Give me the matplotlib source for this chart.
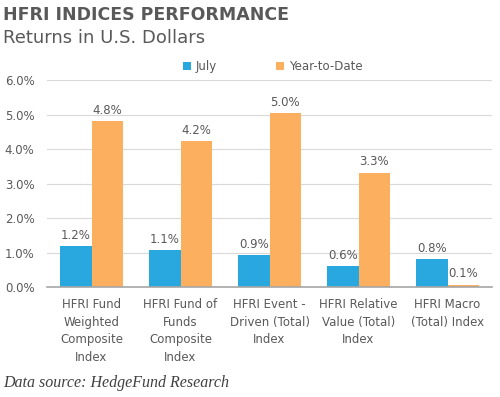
import matplotlib
matplotlib.use("Agg")
import matplotlib.pyplot as plt
import numpy as np
from matplotlib.ticker import FuncFormatter

categories = ["HFRI Fund\nWeighted\nComposite\nIndex", "HFRI Fund of\nFunds\nComposite\nIndex",
              "HFRI Event -\nDriven (Total)\nIndex", "HFRI Relative\nValue (Total)\nIndex",
              "HFRI Macro\n(Total) Index"]
july = [1.2, 1.1, 0.9, 0.6, 0.8]
ytd = [4.8, 4.2, 5.0, 3.3, 0.1]
july_heights = [1.18, 1.06, 0.92, 0.60, 0.80]
ytd_heights = [4.82, 4.24, 5.05, 3.32, 0.07]
yticks = [0, 1, 2, 3, 4, 5, 6]

BLUE = "#29A8E0"
ORANGE = "#FBAF5F"
GRAY = "#595959"

fig = plt.figure(figsize=(5, 3.97), dpi=100)
ax = fig.add_axes([0.094, 0.277, 0.89, 0.521])

x = np.arange(len(categories))
w = 0.35
b1 = ax.bar(x - w/2, july_heights, w, color=BLUE, label="July", zorder=3)
b2 = ax.bar(x + w/2, ytd_heights, w, color=ORANGE, label="Year-to-Date", zorder=3)

for rect, v in zip(b1, july):
    ax.text(rect.get_x() + rect.get_width()/2, rect.get_height() + 0.12, f"{v:.1f}%",
            ha="center", va="bottom", fontsize=8.5, color=GRAY)
for rect, v in zip(b2, ytd):
    ax.text(rect.get_x() + rect.get_width()/2, rect.get_height() + 0.12, f"{v:.1f}%",
            ha="center", va="bottom", fontsize=8.5, color=GRAY)

ax.set_ylim(0, 6)
ax.set_xlim(-0.5, len(categories) - 0.5)
ax.set_yticks(yticks)
ax.yaxis.set_major_formatter(FuncFormatter(lambda v, p: f"{v:.1f}%"))
ax.grid(axis="y", color="#D9D9D9", linewidth=0.8, zorder=0)
ax.set_xticks(x)
ax.set_xticklabels(categories, fontsize=8.5, color=GRAY, linespacing=1.45)
ax.tick_params(axis="y", length=0, labelsize=8.5, labelcolor=GRAY, pad=9)
ax.tick_params(axis="x", length=0, pad=8)
for s in ["top", "right", "left"]:
    ax.spines[s].set_visible(False)
ax.spines["bottom"].set_color("#A6A6A6")
ax.spines["bottom"].set_linewidth(1.2)
ax.spines["bottom"].set_zorder(4)

leg = fig.legend(handles=[b1, b2], loc="center", bbox_to_anchor=(0.545, 0.833), ncol=2,
                 frameon=False, fontsize=8.5, handlelength=0.7, handleheight=0.7,
                 handletextpad=0.4, columnspacing=5.0)
for t in leg.get_texts():
    t.set_color(GRAY)

fig.text(0.006, 0.963, "HFRI INDICES PERFORMANCE", fontsize=12.5, fontweight="bold",
         color=GRAY, ha="left", va="center")
fig.text(0.006, 0.905, "Returns in U.S. Dollars", fontsize=13, color=GRAY,
         ha="left", va="center")
fig.text(0.006, 0.035, "Data source: HedgeFund Research", fontsize=11.5, style="italic",
         family="Liberation Serif", color="#404040", ha="left", va="center")

fig.savefig("out.png", dpi=100)
